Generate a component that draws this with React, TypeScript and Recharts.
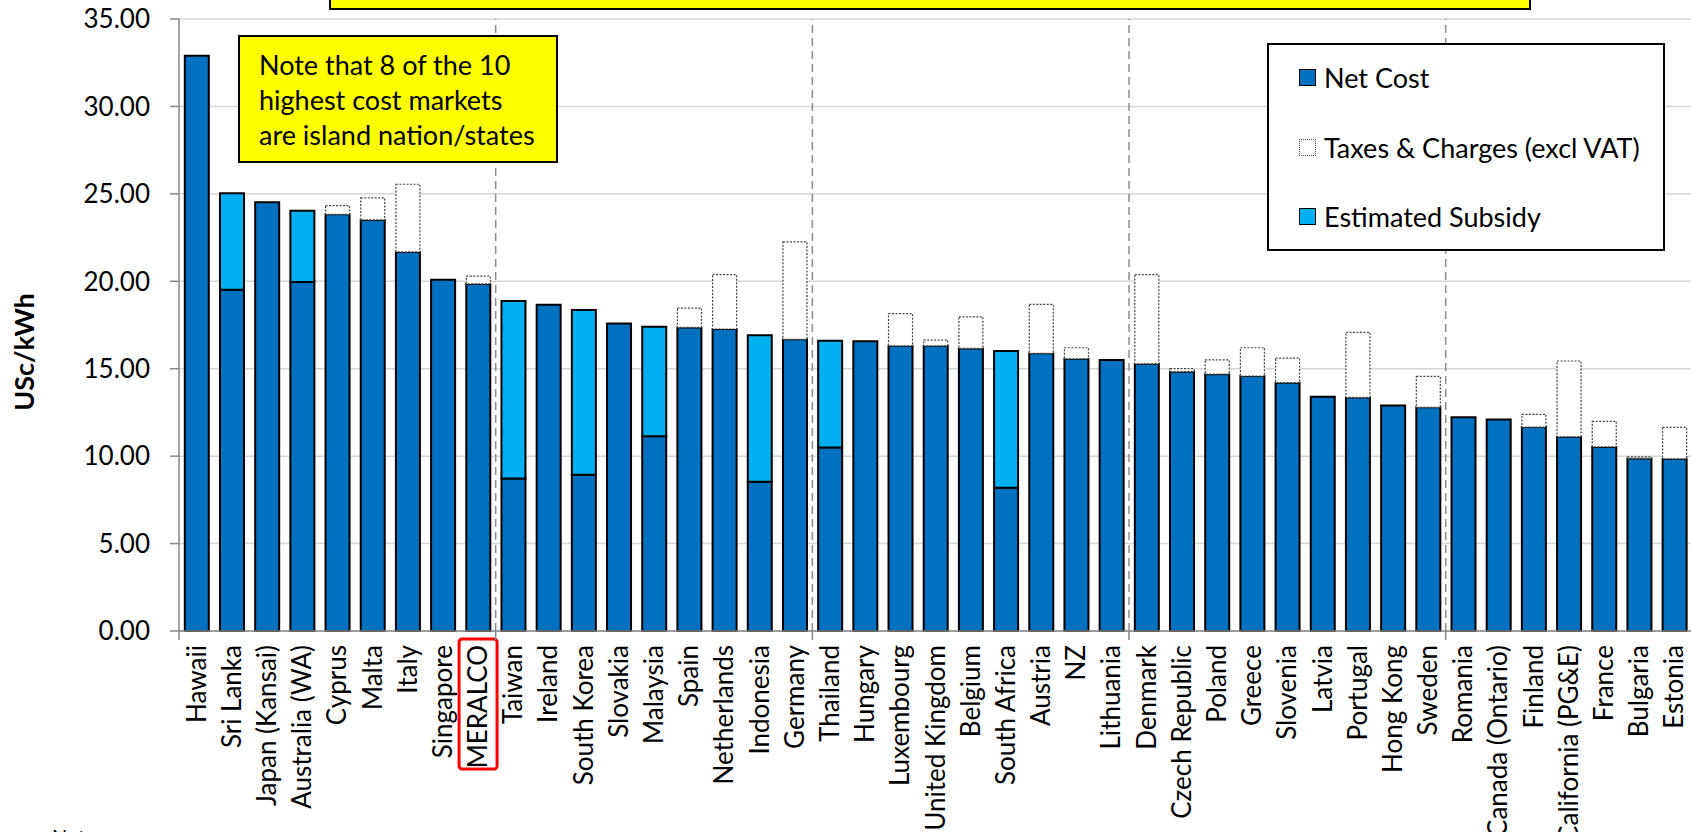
import { BarChart, Bar, XAxis, YAxis, CartesianGrid, Legend, ReferenceLine } from 'recharts';

const categories = [
    'Hawaii', 'Sri Lanka', 'Japan (Kansai)', 'Australia (WA)', 'Cyprus', 'Malta', 'Italy', 'Singapore', 'MERALCO',
    'Taiwan', 'Ireland', 'South Korea', 'Slovakia', 'Malaysia', 'Spain', 'Netherlands', 'Indonesia', 'Germany',
    'Thailand', 'Hungary', 'Luxembourg', 'United Kingdom', 'Belgium', 'South Africa', 'Austria', 'NZ', 'Lithuania',
    'Denmark', 'Czech Republic', 'Poland', 'Greece', 'Slovenia', 'Latvia', 'Portugal', 'Hong Kong', 'Sweden',
    'Romania', 'Canada (Ontario)', 'Finland', 'California (PG&E)', 'France', 'Bulgaria', 'Estonia',
];

// USc/kWh
const netCost = [
    32.9, 19.52, 24.52, 19.96, 23.83, 23.51, 21.68, 20.09, 19.85,
    8.72, 18.66, 8.93, 17.59, 11.14, 17.36, 17.27, 8.53, 16.68,
    10.5, 16.57, 16.31, 16.31, 16.16, 8.19, 15.88, 15.57, 15.5,
    15.28, 14.83, 14.69, 14.58, 14.2, 13.4, 13.36, 12.9, 12.79,
    12.23, 12.1, 11.66, 11.11, 10.53, 9.87, 9.85,
];

const taxes = [
    0, 0, 0, 0, 0.5, 1.26, 3.87, 0, 0.44,
    0, 0, 0, 0, 0, 1.11, 3.11, 0, 5.57,
    0, 0, 1.84, 0.33, 1.81, 0, 2.8, 0.63, 0,
    5.1, 0.17, 0.81, 1.62, 1.41, 0, 3.72, 0, 1.77,
    0, 0, 0.73, 4.33, 1.46, 0.09, 1.79,
];

const subsidy = [
    0, 5.52, 0, 4.08, 0, 0, 0, 0, 0,
    10.15, 0, 9.43, 0, 6.26, 0, 0, 8.38, 0,
    6.1, 0, 0, 0, 0, 7.82, 0, 0, 0,
    0, 0, 0, 0, 0, 0, 0, 0, 0,
    0, 0, 0, 0, 0, 0, 0,
];

const yTicks = [0, 5, 10, 15, 20, 25, 30, 35];
const groupSize = 9;
const highlighted = 'MERALCO';
const legendOrder = ['net', 'taxes', 'subsidy'];

const data = categories.map((name, i) => ({
    name,
    net: netCost[i],
    taxes: taxes[i],
    subsidy: subsidy[i],
}));

const FONT = 'Lato, "Open Sans", sans-serif';
const AXIS_GREY = '#878787';

const legendSwatch: Record<string, React.CSSProperties> = {
    net: { background: '#0070C0', border: '1.5px solid #000' },
    taxes: { background: '#fff', border: '1.5px dotted #555' },
    subsidy: { background: '#00B0F0', border: '1.5px solid #000' },
};

function renderLegend({ payload }: any) {
    const items = [...(payload || [])].sort(
        (a: any, b: any) => legendOrder.indexOf(a.dataKey) - legendOrder.indexOf(b.dataKey)
    );
    return (
        <div
            style={{
                boxSizing: 'border-box',
                width: 398,
                height: 208,
                border: '2px solid #000',
                background: '#fff',
                padding: '0 0 0 30px',
                fontFamily: FONT,
                fontSize: 27,
                color: '#000',
            }}
        >
            <div style={{ marginTop: -2 }}>
                {items.map((entry: any) => (
                    <div key={entry.dataKey} style={{ display: 'flex', alignItems: 'center', height: 69.5 }}>
                        <span
                            style={{
                                boxSizing: 'border-box',
                                width: 17,
                                height: 17,
                                marginRight: 8,
                                ...legendSwatch[entry.dataKey],
                            }}
                        />
                        <span>{entry.value}</span>
                    </div>
                ))}
            </div>
        </div>
    );
}

function CategoryTick({ x, y, payload }: any) {
    const half = payload.offset ?? 0;
    return (
        <g transform={`translate(${x},${y})`}>
            {payload.index % groupSize === 0 && (
                <line x1={-half} x2={-half} y1={0} y2={9} stroke={AXIS_GREY} strokeWidth={1.5} />
            )}
            {payload.value === highlighted && (
                <rect x={-19} y={8} width={38} height={130} rx={3} fill="none" stroke="#ff0000" strokeWidth={3} />
            )}
            <text
                transform="rotate(-90)"
                x={-14}
                y={9}
                textAnchor="end"
                fill="#000"
                style={{ fontFamily: FONT, fontSize: 26 }}
            >
                {payload.value}
            </text>
        </g>
    );
}

export default function App() {
    return (
        <div
            style={{
                position: 'fixed',
                left: 0,
                top: 0,
                width: 1691,
                height: 832,
                overflow: 'hidden',
                background: '#fff',
                fontFamily: FONT,
            }}
        >
            <BarChart
                width={1692}
                height={832}
                data={data}
                margin={{ top: 19, right: 0, bottom: 0, left: 0 }}
                barCategoryGap="16.5%"
            >
                <CartesianGrid vertical={false} stroke="#d6d6d6" strokeWidth={1.5} />
                <XAxis
                    dataKey="name"
                    interval={0}
                    height={201}
                    tickLine={false}
                    tickSize={0}
                    tickMargin={0}
                    stroke={AXIS_GREY}
                    strokeWidth={1.5}
                    tick={<CategoryTick />}
                />
                <YAxis
                    width={179}
                    domain={[0, 35]}
                    ticks={yTicks}
                    interval={0}
                    tickSize={9}
                    tickMargin={20}
                    stroke={AXIS_GREY}
                    strokeWidth={1.5}
                    tick={{ fill: '#000', fontSize: 26, fontFamily: FONT }}
                    tickFormatter={(v: number) => v.toFixed(2)}
                    label={{
                        value: 'USc/kWh',
                        angle: -90,
                        position: 'center',
                        dx: -65,
                        dy: 27,
                        style: { fill: '#000', fontSize: 27, fontWeight: 700, fontFamily: FONT },
                    }}
                />
                {categories
                    .filter((_, i) => i > 0 && i % groupSize === 0)
                    .map((c) => (
                        <ReferenceLine
                            key={c}
                            x={c}
                            position="start"
                            stroke="#8c8c8c"
                            strokeWidth={1.5}
                            strokeDasharray="8 5"
                        />
                    ))}
                <Legend
                    layout="vertical"
                    align="center"
                    verticalAlign="middle"
                    wrapperStyle={{ left: 1267, top: 43, width: 398, height: 208 }}
                    content={renderLegend}
                />
                <Bar dataKey="net" name="Net Cost" stackId="a" fill="#0070C0" stroke="#000" strokeWidth={2} isAnimationActive={false} />
                <Bar
                    dataKey="taxes"
                    name="Taxes & Charges (excl VAT)"
                    stackId="a"
                    fill="#fff"
                    stroke="#444"
                    strokeWidth={1.2}
                    strokeDasharray="2 1.5"
                    isAnimationActive={false}
                />
                <Bar dataKey="subsidy" name="Estimated Subsidy" stackId="a" fill="#00B0F0" stroke="#000" strokeWidth={2} isAnimationActive={false} />
            </BarChart>

            {/* headline banner, only its lower edge sits inside the frame */}
            <div
                style={{
                    position: 'absolute',
                    left: 329,
                    top: -40,
                    width: 1202,
                    height: 50,
                    boxSizing: 'border-box',
                    background: '#ffff00',
                    border: '2px solid #000',
                }}
            />

            <div
                style={{
                    position: 'absolute',
                    left: 238,
                    top: 35,
                    width: 320,
                    height: 128,
                    boxSizing: 'border-box',
                    background: '#ffff00',
                    border: '2px solid #000',
                    padding: '10px 0 0 19px',
                    fontSize: 27,
                    lineHeight: '35px',
                    color: '#000',
                }}
            >
                Note that 8 of the 10
                <br />
                highest cost markets
                <br />
                are island nation/states
            </div>

            <div style={{ position: 'absolute', left: 52, top: 824, fontSize: 20, color: '#000' }}>Notes:</div>
        </div>
    );
}
